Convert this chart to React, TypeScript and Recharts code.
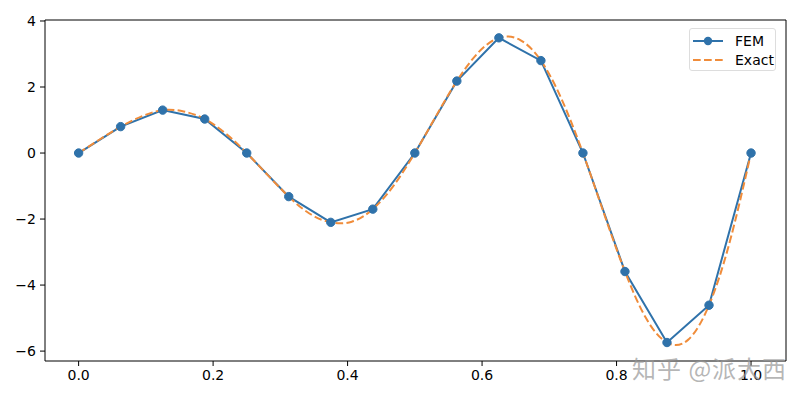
import { LineChart, Line, XAxis, YAxis, ReferenceLine } from 'recharts';

// nodal FEM solution (17 nodes, h = 1/16)
const FEM_X = [0, 0.0625, 0.125, 0.1875, 0.25, 0.3125, 0.375, 0.4375, 0.5, 0.5625, 0.625, 0.6875, 0.75, 0.8125, 0.875, 0.9375, 1];
const FEM_Y = [0, 0.8, 1.3, 1.03, 0, -1.32, -2.1, -1.7, 0, 2.18, 3.49, 2.8, 0, -3.59, -5.74, -4.61, 0];

// exact curve, read at every 1/32
const EXACT_X = [
  0, 0.03125, 0.0625, 0.09375, 0.125, 0.15625, 0.1875, 0.21875, 0.25, 0.28125, 0.3125, 0.34375, 0.375,
  0.40625, 0.4375, 0.46875, 0.5, 0.53125, 0.5625, 0.59375, 0.625, 0.65625, 0.6875, 0.71875, 0.75,
  0.78125, 0.8125, 0.84375, 0.875, 0.90625, 0.9375, 0.96875, 1,
];
const EXACT_Y = [
  0, 0.41, 0.8, 1.11, 1.3, 1.26, 1.03, 0.59, 0, -0.67, -1.32, -1.84, -2.1,
  -2.08, -1.7, -0.98, 0, 1.11, 2.18, 3.03, 3.49, 3.43, 2.8, 1.61, 0,
  -1.83, -3.59, -5.0, -5.74, -5.66, -4.61, -2.66, 0,
];

const X_TICKS = [0, 0.2, 0.4, 0.6, 0.8, 1.0];
const Y_TICKS = [-6, -4, -2, 0, 2, 4];
const X_DOMAIN = [-0.05, 1.052];
const Y_DOMAIN = [-6.3, 4.03];

const BLUE = '#2f72aa';
const ORANGE = '#f08c3a';
const FONT = '"DejaVu Sans", sans-serif';

const femData = FEM_X.map((x, i) => ({ x, y: FEM_Y[i] }));
const exactData = EXACT_X.map((x, i) => ({ x, y: EXACT_Y[i] }));

const tickStyle = { fontSize: 14, fill: '#000', fontFamily: FONT };

export default function App() {
  return (
    <div style={{ position: 'absolute', left: 0, top: 0, width: 800, height: 400, background: '#fff' }}>
      <LineChart width={800} height={400} margin={{ top: 20, right: 14, bottom: 0, left: 0 }}>
        <XAxis
          type="number"
          dataKey="x"
          domain={X_DOMAIN}
          ticks={X_TICKS}
          allowDataOverflow
          tickFormatter={(v: number) => v.toFixed(1)}
          tick={tickStyle}
          stroke="#000"
          tickSize={5}
          tickMargin={4}
          height={39}
        />
        <YAxis
          type="number"
          dataKey="y"
          domain={Y_DOMAIN}
          ticks={Y_TICKS}
          allowDataOverflow
          tickFormatter={(v: number) => String(v).replace('-', '\u2212')}
          tick={tickStyle}
          stroke="#000"
          tickSize={5}
          tickMargin={4}
          width={45}
        />
        <ReferenceLine y={Y_DOMAIN[1]} stroke="#000" strokeWidth={1} />
        <ReferenceLine x={X_DOMAIN[1]} stroke="#000" strokeWidth={1} />
        <Line
          data={femData}
          dataKey="y"
          type="linear"
          stroke={BLUE}
          strokeWidth={2}
          dot={{ r: 4.2, fill: BLUE, stroke: BLUE, strokeWidth: 1 }}
          isAnimationActive={false}
        />
        <Line
          data={exactData}
          dataKey="y"
          type="natural"
          stroke={ORANGE}
          strokeWidth={2}
          strokeDasharray="7.7 3.3"
          dot={false}
          isAnimationActive={false}
        />
      </LineChart>

      {/* legend, matplotlib style box */}
      <div
        style={{
          position: 'absolute',
          left: 689,
          top: 28,
          width: 87,
          height: 43,
          border: '1px solid #ddd',
          borderRadius: 3,
          background: 'rgba(255,255,255,0.8)',
          fontFamily: FONT,
          fontSize: 14,
          boxSizing: 'border-box',
        }}
      >
        <div style={{ position: 'absolute', left: 3, top: 3, display: 'flex', alignItems: 'center', height: 18 }}>
          <svg width={30} height={12}>
            <line x1={0} y1={6} x2={30} y2={6} stroke={BLUE} strokeWidth={2} />
            <circle cx={15} cy={6} r={4.2} fill={BLUE} />
          </svg>
          <span style={{ marginLeft: 12 }}>FEM</span>
        </div>
        <div style={{ position: 'absolute', left: 3, top: 22, display: 'flex', alignItems: 'center', height: 18 }}>
          <svg width={30} height={12}>
            <line x1={0} y1={6} x2={30} y2={6} stroke={ORANGE} strokeWidth={2} strokeDasharray="7.7 3.3" />
          </svg>
          <span style={{ marginLeft: 12 }}>Exact</span>
        </div>
      </div>

      {/* watermark */}
      <div
        style={{
          position: 'absolute',
          left: 632,
          top: 350,
          fontSize: 24,
          letterSpacing: 1,
          fontFamily: '"Noto Sans CJK SC", sans-serif',
          color: 'rgba(150,150,150,0.7)',
          whiteSpace: 'nowrap',
        }}
      >
        知乎 @派大西
      </div>
    </div>
  );
}
